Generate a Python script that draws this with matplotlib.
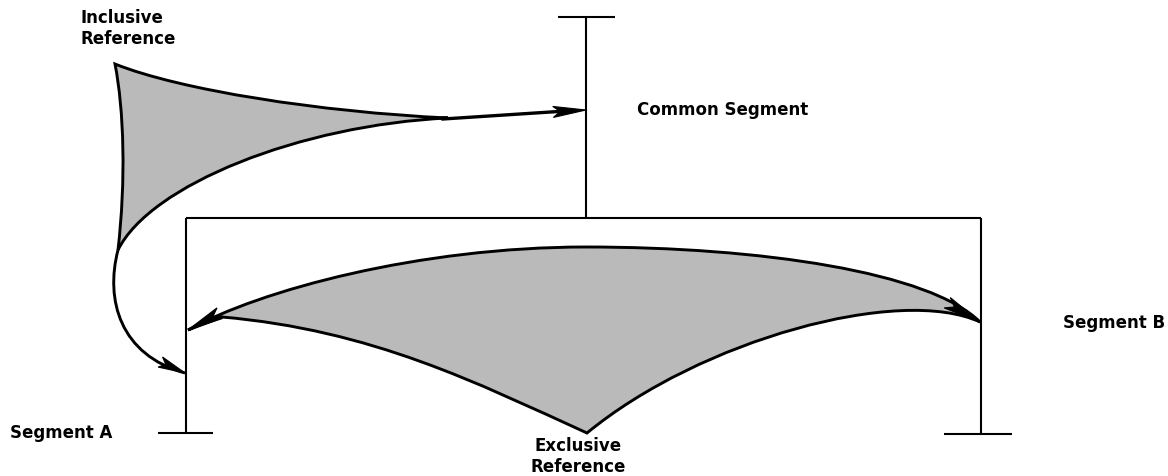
import numpy as np
import matplotlib
matplotlib.use("Agg")
import matplotlib.pyplot as plt
from matplotlib.path import Path
from matplotlib.patches import PathPatch, Polygon

# ---- diagram geometry (pixel space, y downwards) ----
# frame lines: (x0, y0, x1, y1)
frame_lines = [
    (186, 218, 186, 433),   # Segment A vertical
    (158, 433, 213, 433),   # Segment A foot
    (186, 218, 981, 218),   # shared top bar
    (981, 218, 981, 434),   # Segment B vertical
    (944, 434, 1012, 434),  # Segment B foot
    (586, 17, 586, 218),    # Common segment vertical
    (558, 17, 615, 17),     # Common segment cap
]

# Inclusive reference shape (cubic bezier chain)
incl_vertex = (115, 64)
incl_top = [(180, 90), (320, 112), (448, 118)]
incl_bottom = [(300, 125), (150, 185), (118, 250)]
incl_left = [(126, 180), (124, 110), (115, 64)]
incl_tip = (586, 110)
incl_hook = [(118, 250), (105, 300), (120, 355), (185, 373)]

# Exclusive reference shape
excl_left_tip = (188, 330)
excl_upper1 = [(260, 290), (420, 247), (586, 247)]
excl_upper2 = [(760, 247), (930, 272), (980, 322)]
excl_lower_r = [(900, 285), (700, 340), (587, 433)]
excl_lower_l = [(477, 383), (372, 330), (222, 317)]

labels = [
    ("Inclusive\nReference", 81, 9, "left", "top"),
    ("Common Segment", 637, 110, "left", "center"),
    ("Segment B", 1063, 323, "left", "center"),
    ("Segment A", 10, 433, "left", "center"),
    ("Exclusive\nReference", 578, 437, "center", "top"),
]

FILL = "#bababa"
LW_CURVE = 2.1
LW_FRAME = 1.5

fig = plt.figure(figsize=(11.68, 4.76), dpi=100)
ax = fig.add_axes([0, 0, 1, 1])
ax.set_xlim(0, 1168)
ax.set_ylim(476, 0)
ax.axis("off")


def bez_path(start, segs, close=False):
    verts = [start]
    codes = [Path.MOVETO]
    for s in segs:
        verts += list(s)
        codes += [Path.CURVE4] * 3
    if close:
        verts.append(start)
        codes.append(Path.CLOSEPOLY)
    return Path(verts, codes)


def arrowhead(tip, frm, length, width):
    tip = np.array(tip, float)
    d = tip - np.array(frm, float)
    d /= np.hypot(*d)
    n = np.array([-d[1], d[0]])
    base = tip - d * length
    notch = tip - d * length * 0.78
    pts = [tip, base + n * width / 2, notch, base - n * width / 2]
    ax.add_patch(Polygon(pts, closed=True, facecolor="black",
                         edgecolor="black", lw=0.8, zorder=5))


for x0, y0, x1, y1 in frame_lines:
    ax.plot([x0, x1], [y0, y1], color="black", lw=LW_FRAME,
            solid_capstyle="butt", zorder=3)

# inclusive shape
p_incl = bez_path(incl_vertex, [incl_top, incl_bottom, incl_left], close=True)
ax.add_patch(PathPatch(p_incl, facecolor=FILL, edgecolor="black",
                       lw=LW_CURVE, zorder=2, joinstyle="miter"))
ax.plot([incl_top[-1][0] - 5, incl_tip[0] - 20],
        [incl_top[-1][1] + 1, incl_tip[1] + 1],
        color="black", lw=2.4, zorder=4)
arrowhead(incl_tip, (552, 112), 33, 11)

hook = Path(incl_hook, [Path.MOVETO] + [Path.CURVE4] * 3)
ax.add_patch(PathPatch(hook, facecolor="none", edgecolor="black",
                       lw=LW_CURVE, zorder=3))
arrowhead(incl_hook[-1], (158, 361), 27, 11)

# exclusive shape
p_excl = bez_path(excl_left_tip,
                  [excl_upper1, excl_upper2, excl_lower_r, excl_lower_l],
                  close=True)
ax.add_patch(PathPatch(p_excl, facecolor=FILL, edgecolor="black",
                       lw=LW_CURVE, zorder=2, joinstyle="miter"))
arrowhead(excl_left_tip, (222, 312), 36, 12)
arrowhead(excl_upper2[-1], (946, 302), 38, 12)

for txt, x, y, ha, va in labels:
    ax.text(x, y, txt, ha=ha, va=va, fontsize=12, fontweight="bold",
            family="DejaVu Sans", linespacing=1.2, color="black")

fig.savefig("out.png", dpi=100)
